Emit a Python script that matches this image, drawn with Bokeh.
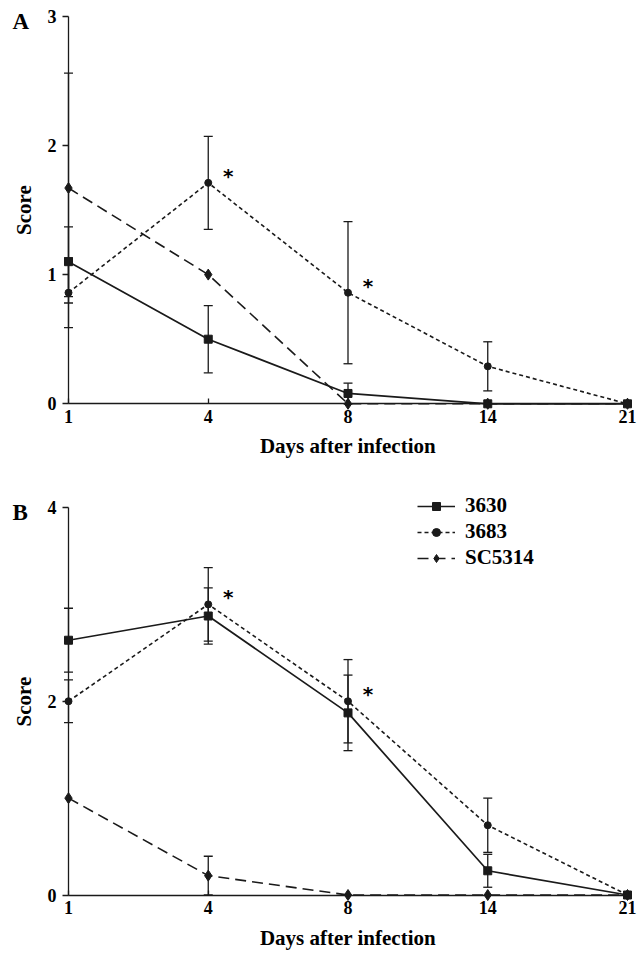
from bokeh.plotting import figure
from bokeh.models import Range1d, FixedTicker, Whisker, TeeHead, ColumnDataSource, Label, Legend, LegendItem
from bokeh.layouts import column
from bokeh.core.properties import value
from bokeh.embed import file_html
from bokeh.resources import INLINE

# ---- data ----
days = ["1", "4", "8", "14", "21"]
xpos = [0, 1, 2, 3, 4]

a_3630 = [1.10, 0.50, 0.08, 0.0, 0.0]
a_3630_err = [0.27, 0.26, 0.08, 0.0, 0.0]
a_3683 = [0.86, 1.71, 0.86, 0.29, 0.0]
a_3683_err = [0.27, 0.36, 0.55, 0.19, 0.0]
a_sc = [1.67, 1.00, 0.0, 0.0, 0.0]
a_sc_err = [0.89, 0.0, 0.0, 0.0, 0.0]

b_3630 = [2.63, 2.88, 1.88, 0.25, 0.0]
b_3630_err = [0.33, 0.29, 0.39, 0.17, 0.0]
b_3683 = [2.00, 3.00, 2.00, 0.72, 0.0]
b_3683_err = [0.22, 0.38, 0.43, 0.28, 0.0]
b_sc = [1.00, 0.20, 0.0, 0.0, 0.0]
b_sc_err = [0.0, 0.20, 0.0, 0.0, 0.0]

a_yticks = [0, 1, 2, 3]
b_yticks = [0, 2, 4]
star_idx = [1, 2]  # significance marks on strain 3683 at days 4 and 8

FONT = "Liberation Serif"
INK = "#1a1a1a"
W = 637
X0_PX, X1_PX = 68.0, 627.0      # pixel position of first / last day


def make_panel(letter, s1, e1, s2, e2, s3, e3, ymax, yticks,
               height, ytop_px, yzero_px, legend=False):
    # frame covers the whole figure; axes are pinned at data 0
    xu = (X1_PX - X0_PX) / (len(xpos) - 1)
    x_start = -X0_PX / xu
    x_end = (len(xpos) - 1) + (W - X1_PX) / xu
    yu = (yzero_px - ytop_px) / ymax
    y_end = ymax + ytop_px / yu
    y_start = -(height - yzero_px) / yu

    p = figure(width=W, height=height, title=None,
               x_range=Range1d(x_start, x_end), y_range=Range1d(y_start, y_end),
               output_backend="svg", toolbar_location=None,
               min_border=0, min_border_left=0, min_border_right=0,
               min_border_top=0, min_border_bottom=0)
    p.outline_line_color = None
    p.xgrid.grid_line_color = None
    p.ygrid.grid_line_color = None
    p.background_fill_color = "white"
    p.border_fill_color = "white"

    # error bars
    for vals, errs in ((s1, e1), (s2, e2), (s3, e3)):
        xs = [x for x, e in zip(xpos, errs) if e > 0]
        up = [v + e for v, e in zip(vals, errs) if e > 0]
        lo = [max(v - e, 0) for v, e in zip(vals, errs) if e > 0]
        src = ColumnDataSource(dict(x=xs, upper=up, lower=lo))
        w = Whisker(source=src, base="x", upper="upper", lower="lower",
                    line_color=INK, line_width=1.3,
                    upper_head=TeeHead(size=9, line_color=INK, line_width=1.3),
                    lower_head=TeeHead(size=9, line_color=INK, line_width=1.3))
        p.add_layout(w)

    l1 = p.line(xpos, s1, line_color=INK, line_width=1.7)
    m1 = p.scatter(xpos, s1, marker="square", size=8, color=INK)
    l2 = p.line(xpos, s2, line_color=INK, line_width=1.6, line_dash="4 3")
    m2 = p.scatter(xpos, s2, marker="circle", size=7, color=INK)
    l3 = p.line(xpos, s3, line_color=INK, line_width=1.6, line_dash="11 6")
    m3 = p.scatter(xpos, s3, marker="diamond", size=11, color=INK)

    p.text(x=[xpos[i] for i in star_idx], y=[s2[i] for i in star_idx],
           text=["*"] * len(star_idx), x_offset=20, y_offset=-7,
           text_font=value("DejaVu Sans"), text_font_style="bold", text_font_size="20px",
           text_align="center", text_baseline="alphabetic", text_color="black")

    p.xaxis.fixed_location = 0
    p.yaxis.fixed_location = 0
    p.xaxis.bounds = (0, len(xpos) - 1)
    p.yaxis.bounds = (0, ymax)
    p.xaxis.ticker = FixedTicker(ticks=xpos)
    p.xaxis.major_label_overrides = {x: d for x, d in zip(xpos, days)}
    p.yaxis.ticker = FixedTicker(ticks=yticks)
    for ax in (p.xaxis[0], p.yaxis[0]):
        ax.axis_line_color = INK
        ax.axis_line_width = 1.3
        ax.major_tick_line_color = INK
        ax.major_tick_line_width = 1.3
        ax.minor_tick_line_color = None
        ax.major_label_text_font = FONT
        ax.major_label_text_font_style = "bold"
        ax.major_label_text_font_size = "18px"
        ax.major_label_text_color = "black"
        ax.axis_label_text_font = FONT
        ax.axis_label_text_font_style = "bold"
        ax.axis_label_text_font_size = "21px"
        ax.axis_label_text_color = "black"
    p.xaxis.major_tick_in = 5
    p.xaxis.major_tick_out = 0
    p.yaxis.major_tick_in = 0
    p.yaxis.major_tick_out = 6
    p.xaxis.major_label_standoff = 6
    p.yaxis.major_label_standoff = 6
    p.xaxis.axis_label = "Days after infection"
    p.yaxis.axis_label = "Score"
    p.xaxis.axis_label_standoff = 8
    p.yaxis.axis_label_standoff = 9

    p.add_layout(Label(x=12, y=height - (ytop_px + 5), x_units="screen", y_units="screen",
                       text=letter, text_font=FONT, text_font_style="bold",
                       text_font_size="23px", text_color="black", text_baseline="alphabetic"))

    if legend:
        lg = Legend(items=[LegendItem(label="3630", renderers=[l1, m1]),
                           LegendItem(label="3683", renderers=[l2, m2]),
                           LegendItem(label="SC5314", renderers=[l3, m3])],
                    location=(417, height - 105), glyph_width=38, glyph_height=20,
                    label_height=20, spacing=1, padding=0, margin=0,
                    label_standoff=10, border_line_color=None,
                    background_fill_alpha=0,
                    label_text_font=FONT, label_text_font_style="bold",
                    label_text_font_size="21px", label_text_color="black")
        p.add_layout(lg)
    return p


pA = make_panel("A", a_3630, a_3630_err, a_3683, a_3683_err, a_sc, a_sc_err,
                3.0, a_yticks, 465, 15.7, 403.3)
pB = make_panel("B", b_3630, b_3630_err, b_3683, b_3683_err, b_sc, b_sc_err,
                4.0, b_yticks, 492, 42.0, 429.5, legend=True)

layout = column(pA, pB, spacing=0)
open("out.html", "w").write(file_html(layout, INLINE))
